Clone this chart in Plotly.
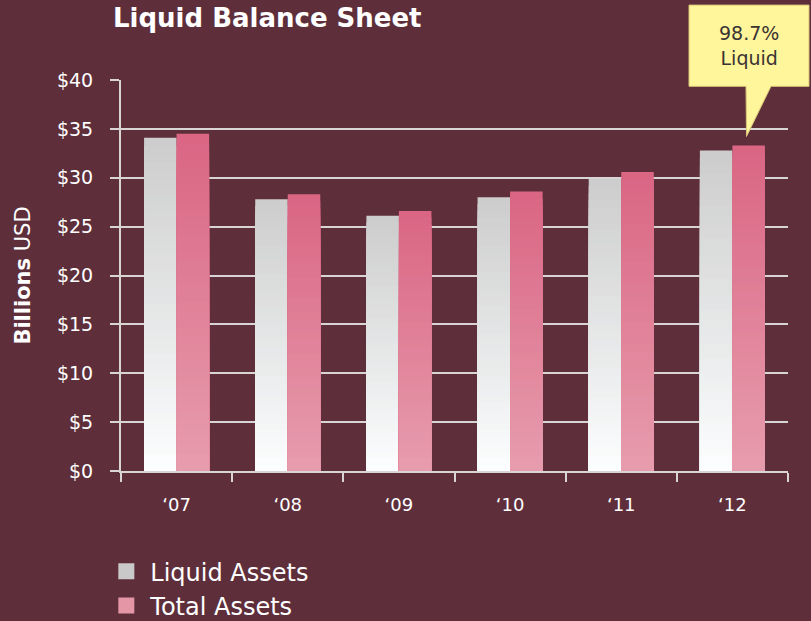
import plotly.graph_objects as go

years = ["\u201807", "\u201808", "\u201809", "\u201810", "\u201811", "\u201812"]
liquid_assets = [34.1, 27.8, 26.1, 28.0, 29.9, 32.8]
total_assets = [34.5, 28.3, 26.6, 28.6, 30.6, 33.3]
y_ticks = [0, 5, 10, 15, 20, 25, 30, 35, 40]
y_tick_labels = ["$0", "$5", "$10", "$15", "$20", "$25", "$30", "$35", "$40"]

BG = "#5e2f3b"
GRID = "#d9d4d5"
FONT = "DejaVu Sans"


def lerp(c1, c2, t):
    a = [int(c1[i:i + 2], 16) for i in (1, 3, 5)]
    b = [int(c2[i:i + 2], 16) for i in (1, 3, 5)]
    return "rgb(%d,%d,%d)" % tuple(round(a[k] + (b[k] - a[k]) * t) for k in range(3))


fig = go.Figure()
N = 40
series = [
    ("liquid", liquid_assets, "#cdcdcd", "#fbfdfe"),
    ("total", total_assets, "#da6684", "#e79cad"),
]
for name, vals, top, bot in series:
    for k in range(N):
        frac = 1 - k / N
        fig.add_trace(go.Bar(
            x=years, y=[v * frac for v in vals],
            offsetgroup=name,
            marker=dict(color=lerp(top, bot, k / (N - 1)), line=dict(width=0)),
            showlegend=False, hoverinfo="skip",
        ))

fig.add_trace(go.Scatter(x=[None], y=[None], mode="markers", name="Liquid Assets",
                         marker=dict(symbol="square", size=18, color="#c9c9c9")))
fig.add_trace(go.Scatter(x=[None], y=[None], mode="markers", name="Total Assets",
                         marker=dict(symbol="square", size=18, color="#e496a7")))


def px(x):
    return (x - 121) / 667


def py(y):
    return (470.7 - y) / 390


bubble = "M {} {} L {} {} L {} {} L {} {} L {} {} L {} {} L {} {} Z".format(
    px(689), py(6), px(809), py(6), px(809), py(87), px(771), py(87),
    px(746.5), py(137), px(746), py(87), px(689), py(87))
fig.add_shape(type="path", path=bubble, xref="paper", yref="paper",
              fillcolor="#fff59b", line=dict(color="#d8c777", width=1), layer="above")
fig.add_annotation(x=px(749), y=py(46), xref="paper", yref="paper",
                   xanchor="center", yanchor="middle", align="center",
                   text="98.7%<br>Liquid", showarrow=False,
                   font=dict(family=FONT, size=19, color="#3a3333"))

fig.update_layout(
    width=811, height=621,
    paper_bgcolor=BG, plot_bgcolor=BG,
    margin=dict(l=121, r=23, t=80, b=150, autoexpand=False),
    barmode="group", bargap=0.415, bargroupgap=0,
    font=dict(family=FONT, color="white"),
    title=dict(text="<b>Liquid Balance Sheet</b>", x=113 / 811, xanchor="left",
               y=1 - 18 / 621, yanchor="middle", xref="container", yref="container",
               font=dict(family=FONT, size=26, color="white")),
    legend=dict(x=-0.028, y=-0.2, xanchor="left", yanchor="top",
                font=dict(family=FONT, size=24, color="white"),
                bgcolor="rgba(0,0,0,0)", itemsizing="trace", itemwidth=38),
    showlegend=True,
)
fig.update_yaxes(
    range=[0, 40], tickvals=y_ticks, ticktext=y_tick_labels,
    showgrid=True, gridcolor=GRID, gridwidth=2,
    ticks="outside", ticklen=9, tickwidth=2, tickcolor=GRID,
    showline=True, linecolor=GRID, linewidth=2, automargin=False,
    tickfont=dict(family=FONT, size=19, color="white"), ticklabelstandoff=13,
    zeroline=False,
    title=dict(text="<b>Billions</b> USD", standoff=21,
               font=dict(family=FONT, size=21, color="white")),
)
fig.update_xaxes(
    type="category", tickson="boundaries", ticks="outside", ticklen=9, tickwidth=2,
    tickcolor=GRID, showline=True, linecolor=GRID, linewidth=2, showgrid=False,
    automargin=False,
    tickfont=dict(family=FONT, size=18, color="white"), ticklabelstandoff=16,
)

fig.write_html("out.html", config={"displayModeBar": False},
               post_script="document.body.style.margin='0px';")
